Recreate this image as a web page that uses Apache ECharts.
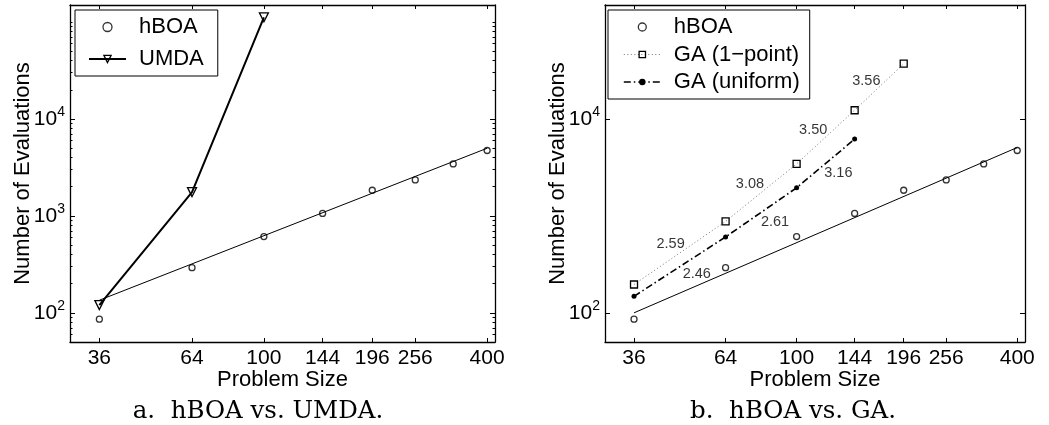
<!DOCTYPE html>
<html>
  <head>
    <meta charset="utf-8" />
    <title>hBOA vs. UMDA and GA</title>
    <script src="https://cdn.jsdelivr.net/npm/echarts@6.0.0/dist/echarts.min.js"></script>
    <style>
      body {
        margin: 0;
        padding: 0;
        background: #fff;
      }
      #main {
        width: 1049px;
        height: 425px;
      }
    </style>
  </head>
  <body>
    <div id="main"></div>
    <script type="text/javascript">
      // x axis: problem size (log scale), y axis: number of evaluations (log scale)
      var sizeTicks = [36, 64, 100, 144, 196, 256, 400];
      var xRange = [30, 420];
      var yRange = [50, 150000];

      var hboaSizes = [36, 64, 100, 144, 196, 256, 324, 400];
      var hboaEvals = [86, 292, 612, 1060, 1840, 2350, 3440, 4730];
      // fitted power-law lines for hBOA (end points)
      var fitSizes = [36, 400];
      var fitEvalsA = [135, 4990];
      var fitEvalsB = [100, 5080];

      var umdaSizes = [36, 64, 100];
      var umdaEvals = [120, 1760, 112000];

      var ga1Sizes = [36, 64, 100, 144, 196];
      var ga1Evals = [196, 877, 3440, 12300, 37200];
      var gaUSizes = [36, 64, 100, 144];
      var gaUEvals = [148, 607, 1950, 6200];

      // local slope annotations on panel b
      var slopeText = ["3.56", "3.50", "3.08", "3.16", "2.61", "2.59", "2.46"];
      var slopeSize = [155, 111, 74.6, 130, 87.3, 45.3, 53.4];
      var slopeEvals = [24400, 7750, 2140, 2780, 869, 519, 250];

      var FONT = '"Liberation Sans", Arial, Helvetica, sans-serif';
      var SERIF = '"DejaVu Serif", "Liberation Serif", serif';

      function lg(v) {
        return Math.log10(v);
      }
      function pts(xs, ys) {
        return xs.map(function (x, i) {
          return [lg(x), lg(ys[i])];
        });
      }

      var majorY = [2, 3, 4];
      var minorY = [];
      for (var n = 1; n <= 5; n++) {
        for (var k = 1; k <= 9; k++) {
          var v = k * Math.pow(10, n);
          if (k === 1 && n <= 4) continue;
          if (v >= yRange[0] && v <= yRange[1]) minorY.push(lg(v));
        }
      }

      function xAxes(grid) {
        var base = {
          gridIndex: grid,
          type: "value",
          min: lg(xRange[0]),
          max: lg(xRange[1]),
          splitLine: { show: false },
          axisLine: { show: true, onZero: false, lineStyle: { color: "#000", width: 1.3 } },
          axisTick: {
            show: true,
            inside: true,
            length: 4,
            customValues: sizeTicks.map(lg),
            lineStyle: { color: "#000", width: 1 },
          },
        };
        var bottom = Object.assign({}, base, {
          position: "bottom",
          name: "Problem Size",
          nameLocation: "middle",
          nameGap: 27,
          nameMoveOverlap: false,
          nameTextStyle: { fontFamily: FONT, fontSize: 22, color: "#000" },
          axisLabel: {
            customValues: sizeTicks.map(lg),
            formatter: function (v) {
              return String(Math.round(Math.pow(10, v)));
            },
            margin: 6,
            fontFamily: FONT,
            fontSize: 21,
            color: "#000",
          },
        });
        var top = Object.assign({}, base, {
          position: "top",
          axisLabel: { show: false },
        });
        return [bottom, top];
      }

      function yAxes(grid, ticks, withMinor) {
        var base = {
          gridIndex: grid,
          type: "value",
          min: lg(yRange[0]),
          max: lg(yRange[1]),
          splitLine: { show: false },
          axisLine: { show: true, onZero: false, lineStyle: { color: "#000", width: 1.3 } },
          axisTick: {
            show: true,
            inside: true,
            length: 5,
            customValues: ticks,
            lineStyle: { color: "#000", width: 1 },
          },
        };
        var left = Object.assign({}, base, {
          position: "left",
          name: "Number of Evaluations",
          nameLocation: "middle",
          nameGap: 36.5,
          nameMoveOverlap: false,
          nameTextStyle: { fontFamily: FONT, fontSize: 22, color: "#000" },
          axisLabel: {
            customValues: ticks,
            margin: 5,
            formatter: function (v) {
              return "{b|10}{s|" + Math.round(v) + "}";
            },
            rich: {
              b: { fontFamily: FONT, fontSize: 21, color: "#000", verticalAlign: "middle" },
              s: { fontFamily: FONT, fontSize: 14, color: "#000", padding: [0, 0, 14, 0] },
            },
          },
        });
        var right = Object.assign({}, base, {
          position: "right",
          axisLabel: { show: false },
        });
        var list = [left, right];
        if (withMinor) {
          ["left", "right"].forEach(function (pos) {
            list.push({
              gridIndex: grid,
              type: "value",
              position: pos,
              min: lg(yRange[0]),
              max: lg(yRange[1]),
              splitLine: { show: false },
              axisLine: { show: false },
              axisLabel: { show: false },
              axisTick: {
                show: true,
                inside: true,
                length: 2.5,
                customValues: minorY,
                lineStyle: { color: "#000", width: 1 },
              },
            });
          });
        }
        return list;
      }

      var openMark = { color: "rgba(255,255,255,0)", borderColor: "#000", borderWidth: 1.3 };

      var myChart = echarts.init(document.getElementById("main"));

      var option = {
        animation: false,
        backgroundColor: "#fff",
        grid: [
          { left: 70, top: 5, width: 425, height: 337, outerBoundsMode: "none" },
          { left: 605, top: 5, width: 420, height: 337, outerBoundsMode: "none" },
        ],
        xAxis: xAxes(0).concat(xAxes(1)),
        // yAxis 0..3 belong to grid 0, 4..5 to grid 1
        yAxis: yAxes(0, majorY, true).concat(yAxes(1, [2, 4], false)),
        legend: [
          {
            data: [
              { name: "hBOA", itemStyle: openMark },
              {
                name: "UMDA",
                itemStyle: openMark,
                lineStyle: { color: "#000", width: 2, type: "solid" },
              },
            ],
            orient: "vertical",
            left: 75,
            top: 10,
            padding: [6, 14, 6, 13],
            itemGap: 10,
            itemWidth: 37,
            itemHeight: 9,
            borderColor: "#000",
            borderWidth: 1,
            backgroundColor: "#fff",
            selectedMode: false,
            textStyle: { fontFamily: FONT, fontSize: 22, color: "#000", padding: [0, 0, 0, 8] },
          },
          {
            data: [
              { name: "hBOA", itemStyle: openMark },
              {
                name: "GA (1\u2212point)",
                itemStyle: openMark,
                lineStyle: { color: "#777", width: 1, type: [1, 2.5] },
              },
              {
                name: "GA (uniform)",
                itemStyle: { color: "#000", borderColor: "#000", borderWidth: 0 },
                lineStyle: { color: "#000", width: 1.6, type: [7, 3, 1.5, 3] },
              },
            ],
            orient: "vertical",
            left: 608,
            top: 10,
            padding: [6, 10, 6, 15],
            itemGap: 5.5,
            itemWidth: 37,
            itemHeight: 8,
            borderColor: "#000",
            borderWidth: 1,
            backgroundColor: "#fff",
            selectedMode: false,
            textStyle: { fontFamily: FONT, fontSize: 22, color: "#000", padding: [0, 0, 0, 8] },
          },
        ],
        graphic: [
          {
            type: "text",
            x: 258,
            y: 412,
            style: {
              text: "a.  hBOA vs. UMDA.",
              font: "24.5px " + SERIF,
              fill: "#000",
              align: "center",
              verticalAlign: "middle",
            },
          },
          {
            type: "text",
            x: 793,
            y: 412,
            style: {
              text: "b.  hBOA vs. GA.",
              font: "24.5px " + SERIF,
              fill: "#000",
              align: "center",
              verticalAlign: "middle",
            },
          },
        ],
        series: [
          // panel a
          {
            name: "hBOA fit a",
            type: "line",
            xAxisIndex: 0,
            yAxisIndex: 0,
            data: pts(fitSizes, fitEvalsA),
            symbol: "none",
            silent: true,
            lineStyle: { color: "#000", width: 1 },
          },
          {
            name: "UMDA",
            type: "line",
            xAxisIndex: 0,
            yAxisIndex: 0,
            data: pts(umdaSizes, umdaEvals),
            color: "#000",
            symbol: "triangle",
            symbolRotate: 180,
            symbolSize: 9,
            itemStyle: openMark,
            lineStyle: { color: "#000", width: 2 },
            z: 3,
          },
          {
            name: "hBOA",
            type: "scatter",
            xAxisIndex: 0,
            yAxisIndex: 0,
            data: pts(hboaSizes, hboaEvals),
            symbol: "circle",
            symbolSize: 6,
            itemStyle: openMark,
            z: 4,
          },
          // panel b
          {
            name: "hBOA fit b",
            type: "line",
            xAxisIndex: 2,
            yAxisIndex: 4,
            data: pts(fitSizes, fitEvalsB),
            symbol: "none",
            silent: true,
            lineStyle: { color: "#000", width: 1 },
          },
          {
            name: "GA (1\u2212point)",
            type: "line",
            xAxisIndex: 2,
            yAxisIndex: 4,
            data: pts(ga1Sizes, ga1Evals),
            color: "#000",
            symbol: "rect",
            symbolSize: 7,
            itemStyle: openMark,
            lineStyle: { color: "#777", width: 1, type: [1, 2.5] },
            z: 3,
          },
          {
            name: "GA (uniform)",
            type: "line",
            xAxisIndex: 2,
            yAxisIndex: 4,
            data: pts(gaUSizes, gaUEvals),
            color: "#000",
            symbol: "circle",
            symbolSize: 5,
            itemStyle: { color: "#000" },
            lineStyle: { color: "#000", width: 1.6, type: [7, 3, 1.5, 3] },
            z: 3,
          },
          {
            name: "hBOA",
            type: "scatter",
            xAxisIndex: 2,
            yAxisIndex: 4,
            data: pts(hboaSizes, hboaEvals),
            symbol: "circle",
            symbolSize: 6,
            itemStyle: openMark,
            z: 4,
          },
          {
            name: "slopes",
            type: "scatter",
            xAxisIndex: 2,
            yAxisIndex: 4,
            silent: true,
            symbolSize: 0.1,
            itemStyle: { color: "rgba(0,0,0,0)" },
            data: slopeText.map(function (t, i) {
              return { name: t, value: [lg(slopeSize[i]), lg(slopeEvals[i])] };
            }),
            label: {
              show: true,
              position: "inside",
              formatter: "{b}",
              fontFamily: FONT,
              fontSize: 14.5,
              color: "#000",
            },
            z: 5,
          },
        ],
      };

      myChart.setOption(option);
    </script>
  </body>
</html>
